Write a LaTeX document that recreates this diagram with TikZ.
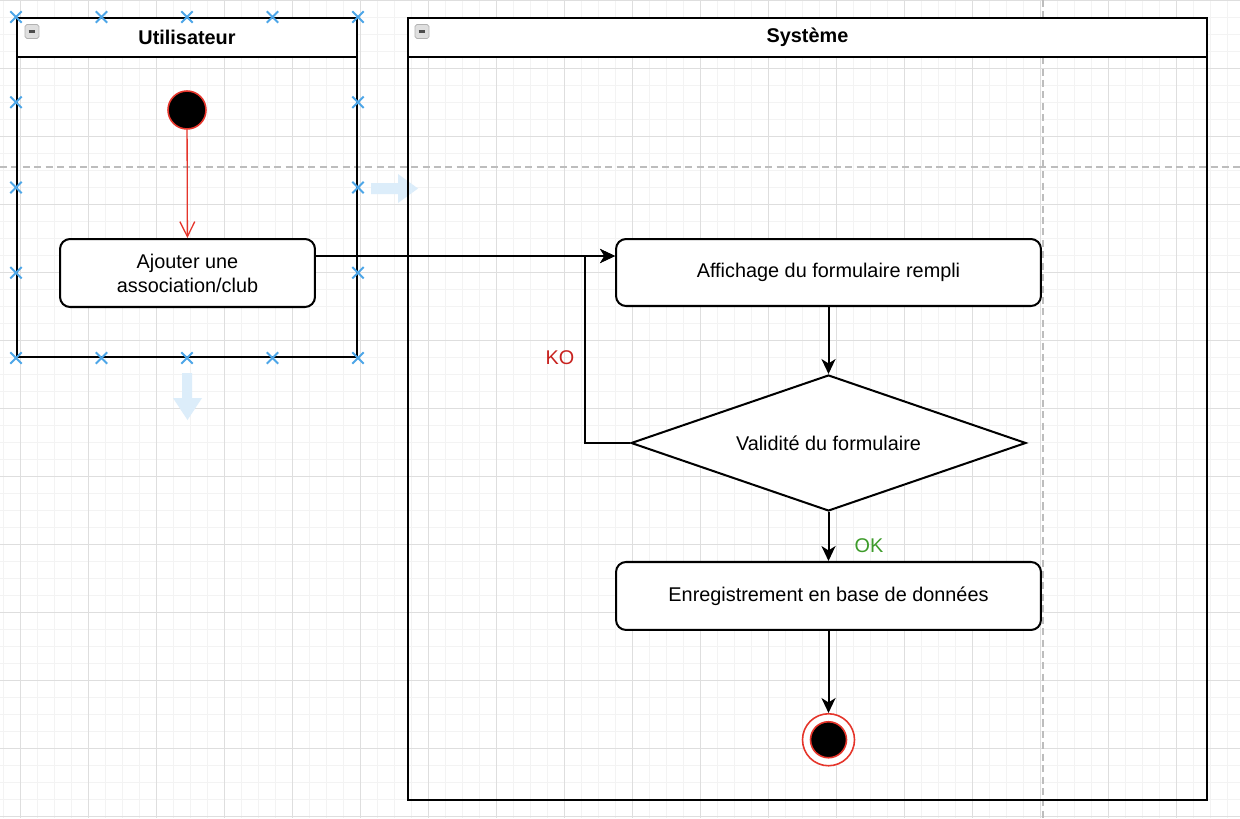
\documentclass[tikz,border=0pt]{standalone}
\usepackage{fontspec}
\setmainfont{Liberation Sans}
\usetikzlibrary{arrows.meta,positioning,calc,shapes.geometric,shapes.misc}
\definecolor{FlowRed}{HTML}{E5352B}
\definecolor{KoRed}{HTML}{C8221F}
\definecolor{OkGreen}{HTML}{3D9B2A}
\definecolor{GridMinor}{HTML}{F3F3F3}
\definecolor{GridMajor}{HTML}{DEDEDE}
\definecolor{Guide}{HTML}{BDBDBD}
\definecolor{Handle}{HTML}{4DA6E8}
\definecolor{Hover}{HTML}{DCEDFA}
\newcommand{\diagfont}{\fontsize{11.3}{13.6}\selectfont}
\tikzset{
  lane/.style={draw, line width=1.2pt, inner sep=0pt},
  lanehead/.style={lane, fill=white, minimum height=0.78cm, font=\diagfont\bfseries},
  laneicon/.style={draw=gray!60, fill=gray!25, minimum size=0.28cm, inner sep=0pt,
    rounded corners=1pt,
    path picture={\draw[line width=1.5pt, black!70]
      ([xshift=2pt]path picture bounding box.west) --
      ([xshift=-2pt]path picture bounding box.east);}},
  actbox/.style={draw, line width=1.15pt, rounded corners=0.2cm, fill=white,
    align=center, minimum width=8.5cm, minimum height=1.36cm, font=\diagfont},
  decision/.style={diamond, draw, line width=1.15pt, fill=white, inner sep=0pt,
    aspect=2.9, minimum width=7.9cm, minimum height=2.72cm, font=\diagfont},
  startdot/.style={circle, draw=FlowRed, line width=0.9pt, fill=black,
    minimum size=0.76cm, inner sep=0pt},
  stopring/.style={circle, draw=FlowRed, line width=0.9pt, fill=white,
    minimum size=1.04cm, inner sep=0pt},
  stopdot/.style={circle, draw=FlowRed, line width=0.9pt, fill=black,
    minimum size=0.72cm, inner sep=0pt},
  flow/.style={-{Stealth[length=8.5pt,width=8pt,inset=2.5pt]}, line width=1.15pt},
  redflow/.style={-{Straight Barb[length=8.5pt,width=8.5pt]}, line width=0.75pt, color=FlowRed},
  guardlabel/.style={font=\diagfont, text=#1},
  handle/.style={cross out, draw=Handle, line width=1.1pt, minimum size=0.19cm, inner sep=0pt},
  gridminor/.style={GridMinor, line width=0.5pt},
  gridmajor/.style={GridMajor, line width=0.55pt},
  guide/.style={Guide, line width=0.9pt, dash pattern=on 4pt off 2.5pt},
}
\begin{document}
\begin{tikzpicture}[x=0.02cm, y=-0.02cm]
  \useasboundingbox (0,0) rectangle (1240,818);
  \fill[white] (0,0) rectangle (1240,818);

  % canvas grid
  \foreach \x in {3.5,20.5,...,1240} \draw[gridminor] (\x,0) -- (\x,818);
  \foreach \y in {0,17,...,818} \draw[gridminor] (0,\y) -- (1240,\y);
  \foreach \x in {20.5,88.5,...,1240} \draw[gridmajor] (\x,0) -- (\x,818);
  \foreach \y in {0,68,...,818} \draw[gridmajor] (0,\y) -- (1240,\y);
  \draw[guide] (0,167) -- (1240,167);
  \draw[guide] (1043,0) -- (1043,818);

  % hover arrows
  \fill[Hover] (371,183) -- (398,183) -- (398,174) -- (418,188.5) -- (398,203)
    -- (398,194) -- (371,194) -- cycle;
  \fill[Hover] (182,373) -- (192,373) -- (192,398) -- (202,398) -- (187.5,420)
    -- (173,398) -- (182,398) -- cycle;

  % swimlanes
  \node[lane, minimum width=6.8cm, minimum height=6.78cm] (userlane) at (187,187.5) {};
  \node[lanehead, minimum width=6.8cm] (userhead) at (187,37.5) {Utilisateur};
  \node[laneicon] (usericon) at (32,31.5) {};
  \node[lane, minimum width=15.98cm, minimum height=15.64cm] (syslane) at (807.5,409) {};
  \node[lanehead, minimum width=15.98cm] (syshead) at (807.5,37.5) {Système};
  \node[laneicon] (sysicon) at (422,31.5) {};

  % activities
  \node[startdot] (start) at (187,110) {};
  \node[actbox, minimum width=5.1cm] (add) at (187.5,273) {Ajouter une\\association/club};
  \node[actbox, minimum height=1.34cm] (show) at (828.5,272.5) {Affichage du formulaire rempli};
  \node[decision, below=1.34cm of show] (check) {Validité du formulaire};
  \node[actbox, below=0.98cm of check] (save) {Enregistrement en base de données};
  \node[stopring, below=1.64cm of save] (stop) {};
  \node[stopdot] (stopin) at (stop) {};
  \coordinate (join) at (585,256);

  \draw[redflow] (start) -- (add);
  \draw[flow] (add.east |- join) -- (show.west |- join);
  \draw[flow] (check.west) -| (join) -- (show.west |- join);
  \draw[flow] (show) -- (check);
  \draw[flow] (check) -- (save);
  \draw[flow] (save) -- (stop);
  \node[guardlabel=KoRed] (ko) at (560,358) {KO};
  \node[guardlabel=OkGreen] (ok) at (869,546) {OK};

  % selection handles
  \foreach \f in {0,0.25,0.5,0.75,1} {
    \node[handle] at ($(userlane.north west)!\f!(userlane.north east)$) {};
    \node[handle] at ($(userlane.south west)!\f!(userlane.south east)$) {};
  }
  \foreach \f in {0.25,0.5,0.75} {
    \node[handle] at ($(userlane.north west)!\f!(userlane.south west)$) {};
    \node[handle] at ($(userlane.north east)!\f!(userlane.south east)$) {};
  }
\end{tikzpicture}
\end{document}
